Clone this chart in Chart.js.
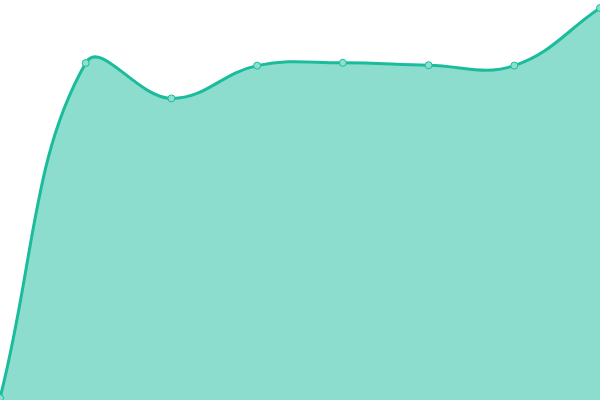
<!DOCTYPE html>
<html>
<head>
<meta charset="utf-8">
<style>
html,body{margin:0;padding:0;background:#fff;}
#wrap{width:600px;height:400px;position:relative;}
</style>
<script src="https://cdn.jsdelivr.net/npm/chart.js@4/dist/chart.umd.min.js"></script>
</head>
<body>
<div id="wrap"><canvas id="c"></canvas></div>
<script>
const categories = ["1","2","3","4","5","6","7","8"];
const seriesValues = [0.5, 84.25, 75.4, 83.6, 84.3, 83.7, 83.6, 98];
const yMin = 0;
const yMax = 100;

new Chart(document.getElementById('c'), {
  type: 'line',
  data: {
    labels: categories,
    datasets: [{
      data: seriesValues,
      fill: true,
      backgroundColor: 'rgba(26,188,156,0.5)',
      borderColor: 'rgb(26,188,156)',
      borderWidth: 3,
      tension: 0.4,
      pointRadius: 3.5,
      pointBorderWidth: 1,
      pointBackgroundColor: 'rgb(140,224,207)',
      pointBorderColor: 'rgb(26,188,156)'
    }]
  },
  options: {
    responsive: true,
    maintainAspectRatio: false,
    animation: false,
    layout: { padding: 0, autoPadding: false },
    plugins: { legend: { display: false }, tooltip: { enabled: false } },
    scales: {
      x: { display: false, offset: false },
      y: { display: false, min: yMin, max: yMax }
    }
  }
});
</script>
</body>
</html>
